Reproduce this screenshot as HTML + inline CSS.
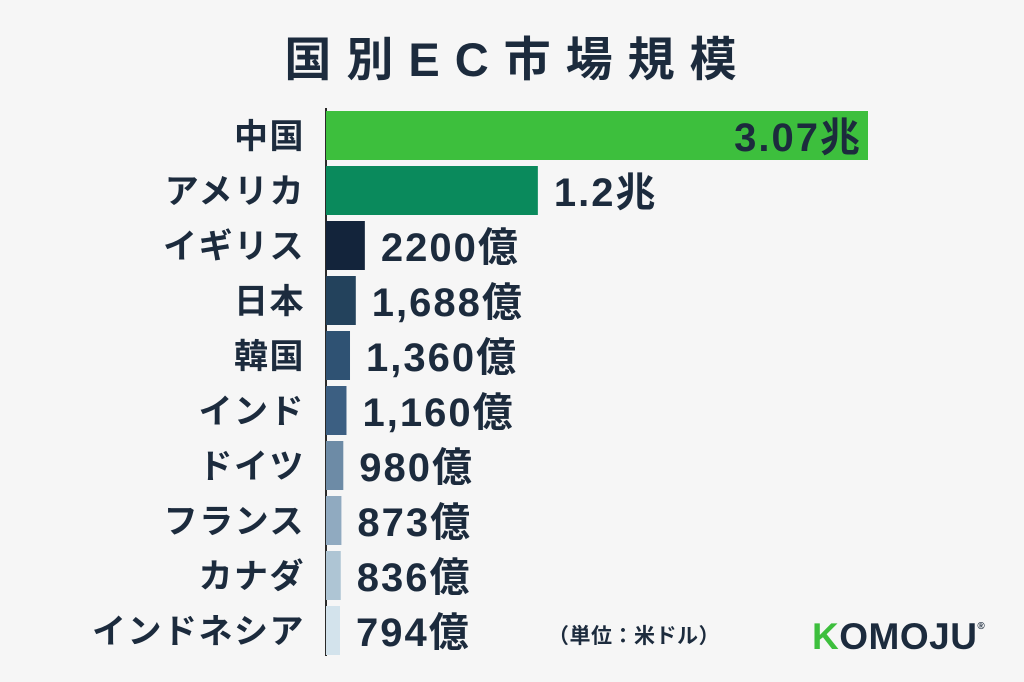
<!DOCTYPE html>
<html><head><meta charset="utf-8"><style>
body{margin:0;background:#f6f6f6;}
svg{display:block;font-family:"Liberation Sans","Noto Sans CJK JP",sans-serif;}
</style></head><body>
<svg id="c" width="1024" height="682">
<rect width="1024" height="682" fill="#f6f6f6"/>
<text x="518" y="76" text-anchor="middle" font-size="47" font-weight="bold" fill="#1c2b3d" letter-spacing="15">国別EC市場規模</text>
<line x1="326" y1="108" x2="326" y2="656" stroke="#2a2a2a" stroke-width="2"/>
<g id="bars"></g>
<text x="548" y="643" font-size="21" font-weight="bold" fill="#1c2b3d" letter-spacing="0.5">（単位：米ドル）</text>
<text x="812" y="649" font-size="37" font-weight="bold" fill="#1c2b3d" letter-spacing="0.5"><tspan fill="#3dbf3d">K</tspan>OMOJU<tspan font-size="10" dy="-20">®</tspan></text>
</svg>
<script>
const countries=["中国","アメリカ","イギリス","日本","韓国","インド","ドイツ","フランス","カナダ","インドネシア"];
const values=[30700,12000,2200,1688,1360,1160,980,873,836,794];
const labels=["3.07兆","1.2兆","2200億","1,688億","1,360億","1,160億","980億","873億","836億","794億"];
const colors=["#3dbf3d","#0a8a5c","#13243b","#23425c","#2f5273","#3c5f82","#6d8ba6","#90aac0","#aec5d4","#d3e3ec"];
const x0=326,scale=542/30700,top0=111,pitch=55,bh=49;
const xs=v=>v*scale;
const ys=i=>top0+i*pitch;
const g=document.getElementById('bars');
const NS="http://www.w3.org/2000/svg";
countries.forEach((c,i)=>{
 const r=document.createElementNS(NS,'rect');
 r.setAttribute('x',x0);r.setAttribute('y',ys(i));
 r.setAttribute('width',xs(values[i]));r.setAttribute('height',bh);
 r.setAttribute('fill',colors[i]);
 
 
 g.appendChild(r);
 const t=document.createElementNS(NS,'text');
 t.setAttribute('x',305);t.setAttribute('y',ys(i)+37);
 t.setAttribute('text-anchor','end');t.setAttribute('font-size','34');
 t.setAttribute('font-weight','bold');t.setAttribute('fill','#1c2b3d');
 t.setAttribute('letter-spacing','1.5');
 t.textContent=c;
 
 
 g.appendChild(t);
 const v=document.createElementNS(NS,'text');
 const inside=i===0;
 v.setAttribute('x',inside?x0+xs(values[i])-6:x0+xs(values[i])+16);
 v.setAttribute('y',ys(i)+40);
 v.setAttribute('text-anchor',inside?'end':'start');
 v.setAttribute('font-size','40');v.setAttribute('font-weight','bold');
 v.setAttribute('letter-spacing','2');
 v.setAttribute('fill','#1c2b3d');
 v.textContent=labels[i];
 
 
 g.appendChild(v);
});
</script>
</body></html>
